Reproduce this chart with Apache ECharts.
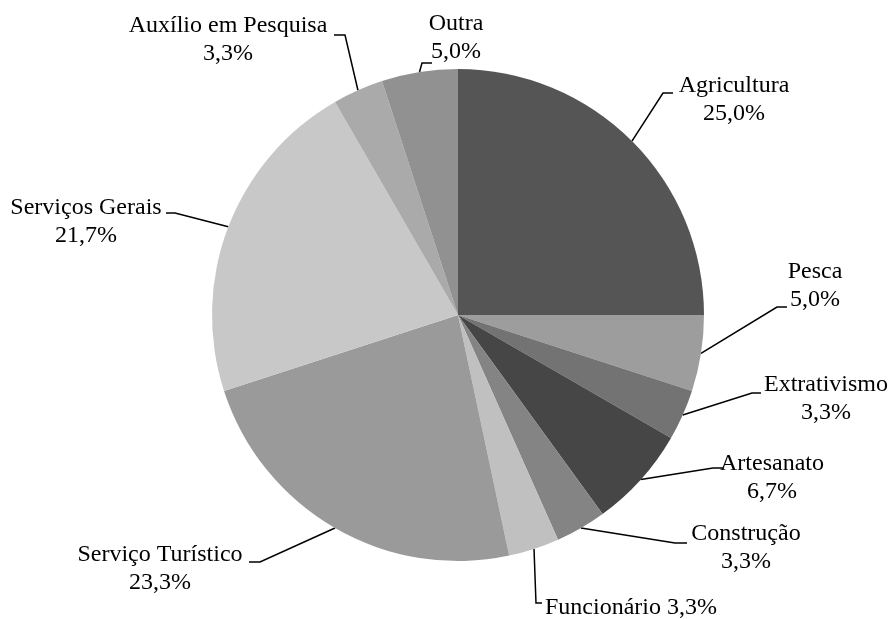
<!DOCTYPE html>
<html>
<head>
<meta charset="utf-8">
<script src="https://cdn.jsdelivr.net/npm/echarts@6/dist/echarts.min.js"></script>
<style>
html,body{margin:0;padding:0;background:#fff}
#main{width:891px;height:619px}
</style>
</head>
<body>
<div id="main"></div>
<script>
var categorias = ['Agricultura', 'Pesca', 'Extrativismo', 'Artesanato', 'Construção',
    'Funcionário', 'Serviço Turístico', 'Serviços Gerais', 'Auxílio em Pesquisa', 'Outra'];
var valores = [15, 3, 2, 4, 2, 2, 14, 13, 2, 3];
var cores = ['#555555', '#9d9d9d', '#737373', '#464646', '#848484',
    '#c0c0c0', '#9a9a9a', '#c8c8c8', '#aaaaaa', '#919191'];
var umaLinha = ['Funcionário'];

// posição dos rótulos: [x, y, cotoveloX, cotoveloY, fimX, alinhamento]
var rotulos = [
    [734, 100, 663, 93, 673, 'center'],
    [815, 286, 777, 307, 787, 'center'],
    [826, 399, 752, 393, 761, 'center'],
    [772, 478, 713, 468, 724, 'center'],
    [746, 548, 675, 543, 687, 'center'],
    [545, 608, 536, 603, 542, 'left'],
    [160, 569, 260, 562, 249, 'center'],
    [86, 222, 175, 213, 166, 'center'],
    [228, 40, 345, 35, 334, 'center'],
    [456, 38, 422, 63, 432, 'center']
];

var myChart = echarts.init(document.getElementById('main'));

var dados = categorias.map(function (c, i) {
    return {name: c, value: valores[i], itemStyle: {color: cores[i]}};
});

var option = {
    backgroundColor: '#fff',
    animation: false,
    series: [
        {
            type: 'pie',
            center: [458, 315],
            radius: 246,
            startAngle: 90,
            clockwise: true,
            data: dados,
            itemStyle: {borderWidth: 0},
            emphasis: {disabled: true},
            label: {
                show: true,
                position: 'outside',
                color: '#000',
                fontFamily: 'Liberation Serif, Times New Roman, serif',
                fontSize: 24,
                lineHeight: 28,
                formatter: function (p) {
                    var pct = p.percent.toFixed(1).replace('.', ',') + '%';
                    return umaLinha.indexOf(p.name) >= 0 ? p.name + ' ' + pct : p.name + '\n' + pct;
                }
            },
            labelLine: {
                show: true,
                length: 20,
                length2: 10,
                lineStyle: {color: '#000', width: 1.5}
            },
            labelLayout: function (params) {
                var r = rotulos[params.dataIndex];
                var p0 = params.labelLinePoints ? params.labelLinePoints[0] : [r[2], r[3]];
                return {
                    x: r[0],
                    y: r[1],
                    align: r[5],
                    verticalAlign: 'middle',
                    labelLinePoints: [p0, [r[2], r[3]], [r[4], r[3]]]
                };
            }
        }
    ]
};
myChart.setOption(option);
</script>
</body>
</html>
